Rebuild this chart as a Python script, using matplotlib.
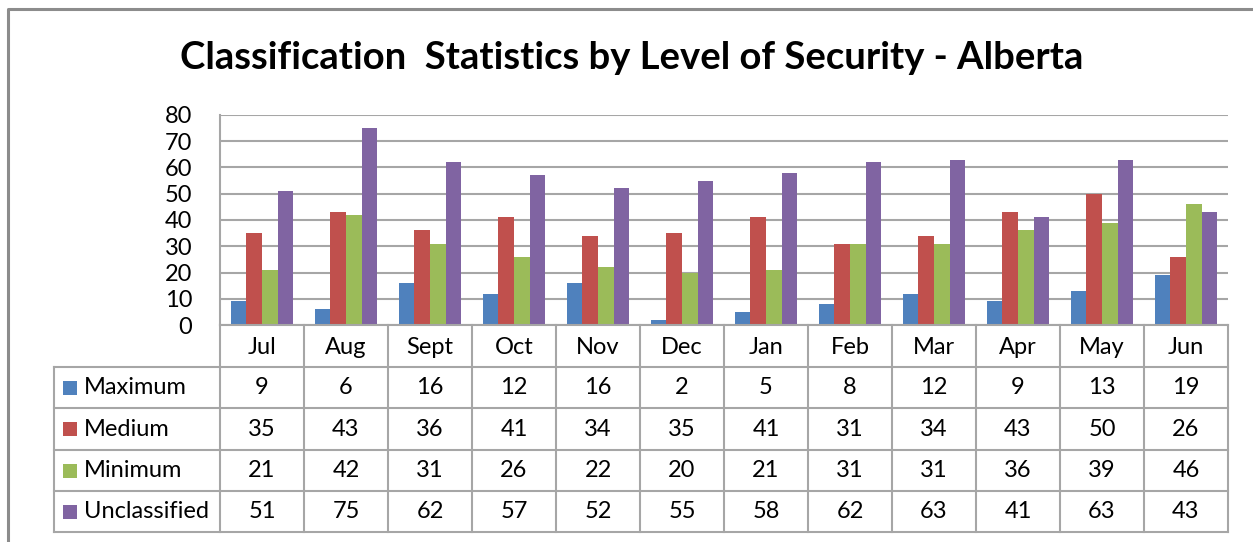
import matplotlib
matplotlib.use("Agg")
import matplotlib.pyplot as plt
import numpy as np

months = ["Jul", "Aug", "Sept", "Oct", "Nov", "Dec", "Jan", "Feb", "Mar", "Apr", "May", "Jun"]
series = ["Maximum", "Medium", "Minimum", "Unclassified"]
maximum = [9, 6, 16, 12, 16, 2, 5, 8, 12, 9, 13, 19]
medium = [35, 43, 36, 41, 34, 35, 41, 31, 34, 43, 50, 26]
minimum = [21, 42, 31, 26, 22, 20, 21, 31, 31, 36, 39, 46]
unclassified = [51, 75, 62, 57, 52, 55, 58, 62, 63, 41, 63, 43]
yticks = [0, 10, 20, 30, 40, 50, 60, 70, 80]

COLORS = ["#4F81BD", "#C0504D", "#9BBB59", "#8064A2"]
GRID = "#a6a6a6"
FONT = "Lato"

W, H = 1253, 542
fig = plt.figure(figsize=(W / 100, H / 100), dpi=100)

# plot area in pixel coords
PL, PR, PT, PB = 220, 1228, 115, 325
ax = fig.add_axes([PL / W, 1 - PB / H, (PR - PL) / W, (PB - PT) / H])
n = len(months)
bw = 0.185
x = np.arange(n)
for k, vals in enumerate([maximum, medium, minimum, unclassified]):
    ax.bar(x - 2 * bw + (k + 0.5) * bw, vals, width=bw, color=COLORS[k],
           zorder=3, linewidth=0)
ax.set_xlim(-0.5, n - 0.5)
ax.set_ylim(0, 80)
ax.set_yticks(yticks)
ax.set_yticklabels([str(t) for t in yticks], fontsize=17, family=FONT)
ax.tick_params(axis="y", length=0, pad=20)
ax.set_xticks([])
ax.grid(axis="y", color=GRID, lw=1.5, zorder=0)
for s in ["top", "right", "bottom"]:
    ax.spines[s].set_visible(False)
ax.spines["left"].set_color(GRID)
ax.spines["left"].set_linewidth(1.5)

# overlay in pixel coords for table, border, title
ov = fig.add_axes([0, 0, 1, 1], zorder=5)
ov.set_xlim(0, W)
ov.set_ylim(H, 0)
ov.axis("off")
ov.patch.set_alpha(0)

# outer chart border
ov.plot([8, 8, W + 5], [H + 5, 9, 9], color="#8c8c8c", lw=2.2)

ov.text(632, 58, "Classification  Statistics by Level of Security - Alberta",
        ha="center", va="center", fontsize=27.5, fontweight="bold", family=FONT)

# data table
TL = 54
rows_y = [325, 367, 408, 450, 491, 532]
colw = (PR - PL) / n
col_x = [PL + i * colw for i in range(n + 1)]
lw = 1.5
ov.plot([PL, PR], [rows_y[0], rows_y[0]], color=GRID, lw=lw)
for yy in rows_y[1:]:
    ov.plot([TL, PR], [yy, yy], color=GRID, lw=lw)
ov.plot([TL, TL], [rows_y[1], rows_y[-1]], color=GRID, lw=lw)
for xx in col_x:
    ov.plot([xx, xx], [rows_y[0], rows_y[-1]], color=GRID, lw=lw)

for i, m in enumerate(months):
    ov.text(col_x[i] + colw / 2, (rows_y[0] + rows_y[1]) / 2 + 1, m,
            ha="center", va="center", fontsize=17, family=FONT)

for r, (name, vals) in enumerate(zip(series, [maximum, medium, minimum, unclassified])):
    yc = (rows_y[r + 1] + rows_y[r + 2]) / 2
    ov.add_patch(plt.Rectangle((63, yc - 7), 14, 14, color=COLORS[r], lw=0))
    ov.text(84, yc, name, ha="left", va="center", fontsize=17, family=FONT)
    for i, v in enumerate(vals):
        ov.text(col_x[i] + colw / 2, yc, str(v), ha="center", va="center",
                fontsize=17, family=FONT)

fig.savefig("out.png", dpi=100, facecolor="white")
